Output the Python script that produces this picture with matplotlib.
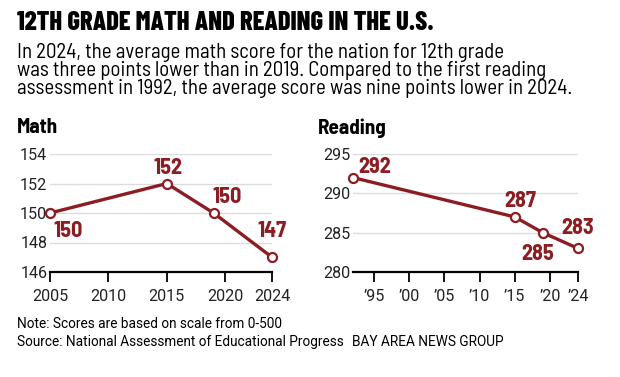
import matplotlib
matplotlib.use('Agg')
import matplotlib.pyplot as plt

# data
math_years = [2005, 2015, 2019, 2024]
math_scores = [150, 152, 150, 147]
read_years = [1992, 2015, 2019, 2024]
read_scores = [292, 287, 285, 283]

math_xticks = [2005, 2010, 2015, 2020, 2024]
math_xlabels = ['2005', '2010', '2015', '2020', '2024']
read_xticks = [1995, 2000, 2005, 2010, 2015, 2020, 2024]
read_xlabels = ['\u201995', '\u201900', '\u201905', '\u201910', '\u201915', '\u201920', '\u201924']

RED = '#8c1d23'
W, H = 620, 377
BODY = ['Barlow Semi Condensed', 'DejaVu Sans']
HEAD = ['Barlow Condensed', 'DejaVu Sans']
SMALL = ['Roboto', 'DejaVu Sans']

fig = plt.figure(figsize=(W / 100, H / 100), dpi=100)
r = fig.canvas.get_renderer()


def fx(x):
    return x / W


def fy(y):
    return 1 - y / H


def fit(txt, family, weight, target):
    # font size that makes txt about target pixels wide
    t = fig.text(0, 0, txt, family=family, fontweight=weight, fontsize=10)
    w = t.get_window_extent(r).width
    t.remove()
    return 10 * target / w


title_fs = fit('12TH GRADE MATH AND READING IN THE U.S.', HEAD, 'heavy', 415)
body_fs = fit('assessment in 1992, the average score was nine points lower in 2024.', BODY, 'normal', 556)
foot_fs = fit('Source: National Assessment of Educational Progress', SMALL, 'normal', 326)
tick_fs = fit('2005', SMALL, 'normal', 36)
panel_fs = fit('Math', BODY, 'bold', 41)
val_fs = fit('152', BODY, 'bold', 29)

fig.text(fx(17), fy(23), '12TH GRADE MATH AND READING IN THE U.S.', family=HEAD,
         fontweight='heavy', fontsize=title_fs, va='center', ha='left')

sub = ['In 2024, the average math score for the nation for 12th grade',
       'was three points lower than in 2019. Compared to the first reading',
       'assessment in 1992, the average score was nine points lower in 2024.']
for i, line in enumerate(sub):
    fig.text(fx(17), fy(52 + i * 18.5), line, family=BODY, fontsize=body_fs,
             va='center', ha='left')

fig.text(fx(17), fy(128), 'Math', family=BODY, fontweight='bold', fontsize=panel_fs,
         va='center', ha='left')
fig.text(fx(318), fy(128), 'Reading', family=BODY, fontweight='bold', fontsize=panel_fs,
         va='center', ha='left')

fig.text(fx(17), fy(324), 'Note: Scores are based on scale from 0-500', family=SMALL,
         fontsize=foot_fs, va='center', ha='left')
fig.text(fx(17), fy(342), 'Source: National Assessment of Educational Progress', family=SMALL,
         fontsize=foot_fs, va='center', ha='left')
fig.text(fx(352), fy(342), 'BAY AREA NEWS GROUP', family=SMALL,
         fontsize=foot_fs, va='center', ha='left')


def style(ax, ylim, yticks, xlim, xticks, xlabels):
    ax.set_ylim(*ylim)
    ax.set_xlim(*xlim)
    ax.set_yticks(yticks)
    ax.set_xticks(xticks)
    ax.set_xticklabels(xlabels)
    for s in ['top', 'right', 'left']:
        ax.spines[s].set_visible(False)
    ax.spines['bottom'].set_linewidth(1.6)
    ax.spines['bottom'].set_color('black')
    ax.grid(axis='y', color='#dcdcdc', linewidth=1)
    ax.set_axisbelow(True)
    ax.tick_params(axis='y', length=0, pad=2, labelsize=tick_fs)
    ax.tick_params(axis='x', length=7, width=1.3, pad=5, labelsize=tick_fs,
                   direction='out')
    for lab in ax.get_xticklabels() + ax.get_yticklabels():
        lab.set_family(SMALL)
        lab.set_color('#222222')


def lab(ax, x, y, txt, dx, dy):
    # offsets given in pixels
    ax.annotate(txt, (x, y), xytext=(dx * 0.72, dy * 0.72), textcoords='offset points',
                ha='center', va='center', color=RED, fontweight='bold', fontsize=val_fs,
                family=BODY)


ax1 = fig.add_axes([fx(50), fy(272), (272 - 50) / W, (272 - 154) / H])
ax1.plot(math_years, math_scores, color=RED, lw=2.4, marker='o', ms=6.5,
         mfc='white', mec=RED, mew=1.6, clip_on=False, zorder=3)
style(ax1, (146, 154), [146, 148, 150, 152, 154], (2005, 2024), math_xticks, math_xlabels)
lab(ax1, 2005, 150, '150', 18, -18)
lab(ax1, 2015, 152, '152', 1, 16)
lab(ax1, 2019, 150, '150', 14, 16)
lab(ax1, 2024, 147, '147', 0, 26)

ax2 = fig.add_axes([fx(353), fy(272), (578 - 353) / W, (272 - 154) / H])
ax2.plot(read_years, read_scores, color=RED, lw=2.4, marker='o', ms=6.5,
         mfc='white', mec=RED, mew=1.6, clip_on=False, zorder=3)
style(ax2, (280, 295), [280, 285, 290, 295], (1992, 2024), read_xticks, read_xlabels)
lab(ax2, 1992, 292, '292', 22, 11)
lab(ax2, 2015, 287, '287', 5, 16)
lab(ax2, 2019, 285, '285', -5, -21)
lab(ax2, 2024, 283, '283', 0, 20)

fig.savefig('out.png', dpi=100)
